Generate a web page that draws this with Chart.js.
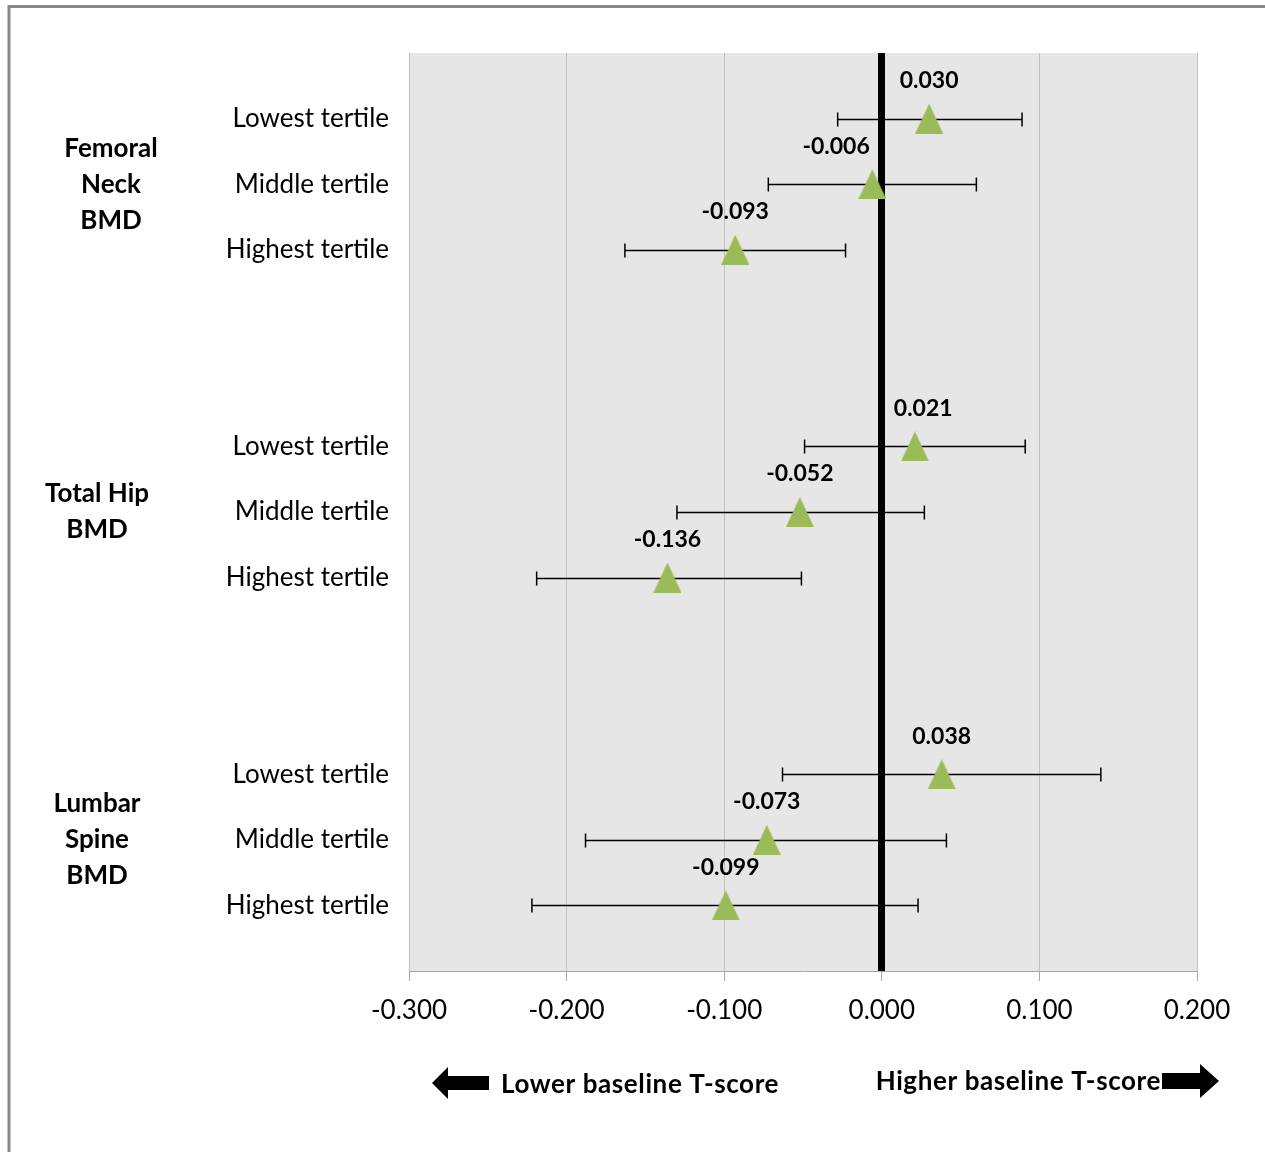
<!DOCTYPE html>
<html>
<head>
<meta charset="utf-8">
<title>Change in T-score by tertile</title>
<script src="https://cdn.jsdelivr.net/npm/chart.js@4.4.1/dist/chart.umd.min.js"></script>
<style>
    body { margin: 0; background: #fff; }
    #wrap { position: relative; width: 1265px; height: 1152px; }
</style>
</head>
<body>
<div id="wrap"><canvas id="forest"></canvas></div>
<script>
// ── Data ─────────────────────────────────────────────────────
const groupLabels = [
    ["Femoral", "Neck", "BMD"],
    ["Total Hip", "BMD"],
    ["Lumbar", "Spine", "BMD"],
];
const tertiles = ["Lowest tertile", "Middle tertile", "Highest tertile"];
const estimates = [0.030, -0.006, -0.093, 0.021, -0.052, -0.136, 0.038, -0.073, -0.099];
const lowerCI = [-0.028, -0.072, -0.163, -0.049, -0.130, -0.219, -0.063, -0.188, -0.222];
const upperCI = [0.089, 0.060, -0.023, 0.091, 0.027, -0.051, 0.139, 0.041, 0.023];
const xTicks = [-0.3, -0.2, -0.1, 0, 0.1, 0.2];
const arrowLabels = ["Lower baseline T-score", "Higher baseline T-score"];

const GREEN = "#9bbb59";
const FONT = "Lato, 'Open Sans', sans-serif";

// row slot on the y scale: 3 tertiles per group, 2 empty slots between groups
function rowPos(i) {
    return Math.floor(i / 3) * 5 + (i % 3);
}

const rowLabelAt = {};
estimates.forEach((_, i) => { rowLabelAt[rowPos(i)] = tertiles[i % 3]; });

// triangle marker (a bit taller than equilateral, like the original)
function makeTriangle() {
    const c = document.createElement("canvas");
    c.width = 28; c.height = 30;
    const g = c.getContext("2d");
    g.fillStyle = GREEN;
    g.beginPath();
    g.moveTo(14, 0);
    g.lineTo(28, 30);
    g.lineTo(0, 30);
    g.closePath();
    g.fill();
    return c;
}

// ── Plugins ──────────────────────────────────────────────────
const framePlugin = {
    id: "frame",
    beforeDraw(chart) {
        const ctx = chart.ctx;
        ctx.save();
        ctx.fillStyle = "#fff";
        ctx.fillRect(0, 0, chart.width, chart.height);
        const a = chart.chartArea;
        ctx.fillStyle = "#e6e6e6";
        ctx.fillRect(a.left, a.top, a.right - a.left, a.bottom - a.top);
        ctx.strokeStyle = "#878787";
        ctx.lineWidth = 3;
        ctx.beginPath();
        ctx.moveTo(9, chart.height);
        ctx.lineTo(9, 6.5);
        ctx.lineTo(chart.width, 6.5);
        ctx.stroke();
        ctx.restore();
    },
};

const errorBarPlugin = {
    id: "errorBars",
    beforeDatasetsDraw(chart) {
        const ctx = chart.ctx;
        const xs = chart.scales.x, ys = chart.scales.y;
        ctx.save();
        ctx.strokeStyle = "#000";
        ctx.lineWidth = 1.5;
        estimates.forEach((_, i) => {
            const y = Math.round(ys.getPixelForValue(rowPos(i))) + 0.5;
            const x1 = xs.getPixelForValue(lowerCI[i]);
            const x2 = xs.getPixelForValue(upperCI[i]);
            ctx.beginPath();
            ctx.moveTo(x1, y); ctx.lineTo(x2, y);
            ctx.moveTo(x1, y - 7); ctx.lineTo(x1, y + 7);
            ctx.moveTo(x2, y - 7); ctx.lineTo(x2, y + 7);
            ctx.stroke();
        });
        ctx.restore();
    },
};

const labelPlugin = {
    id: "valueLabels",
    afterDatasetsDraw(chart) {
        const ctx = chart.ctx;
        const xs = chart.scales.x, ys = chart.scales.y;
        const zeroX = xs.getPixelForValue(0);
        ctx.save();
        ctx.fillStyle = "#000";
        ctx.font = "bold 23px " + FONT;
        ctx.textBaseline = "middle";
        ctx.textAlign = "center";
        estimates.forEach((v, i) => {
            const txt = v.toFixed(3);
            const w = ctx.measureText(txt).width;
            let cx = xs.getPixelForValue(v);
            const cy = ys.getPixelForValue(rowPos(i)) - 38;
            // keep the label clear of the thick zero line
            if (cx - w / 2 < zeroX + 6 && cx + w / 2 > zeroX - 6) {
                cx = v < 0 ? zeroX - 12 - w / 2 : zeroX + 12 + w / 2;
            }
            ctx.fillText(txt, cx, cy);
        });

        // group titles
        const centers = [111, 97, 97];
        ctx.font = "bold 26px " + FONT;
        groupLabels.forEach((lines, g) => {
            const mid = ys.getPixelForValue(g * 5 + 1);
            const top = mid - (lines.length - 1) * 36 / 2;
            lines.forEach((ln, k) => ctx.fillText(ln, centers[g], top + k * 36));
        });
        ctx.restore();
    },
};

const arrowPlugin = {
    id: "arrows",
    afterDraw(chart) {
        const ctx = chart.ctx;
        ctx.save();
        ctx.fillStyle = "#000";
        ctx.font = "bold 26px " + FONT;
        ctx.letterSpacing = "0.6px";
        ctx.textBaseline = "middle";

        // left arrow + text
        const yl = 1083;
        ctx.beginPath();
        ctx.moveTo(432, yl);
        ctx.lineTo(448, yl - 16);
        ctx.lineTo(448, yl - 7);
        ctx.lineTo(489, yl - 7);
        ctx.lineTo(489, yl + 7);
        ctx.lineTo(448, yl + 7);
        ctx.lineTo(448, yl + 16);
        ctx.closePath();
        ctx.fill();
        ctx.textAlign = "left";
        ctx.fillText(arrowLabels[0], 501, 1085);

        // right text + arrow
        const yr = 1081;
        ctx.textAlign = "right";
        ctx.fillText(arrowLabels[1], 1161, yr + 1);
        ctx.beginPath();
        ctx.moveTo(1219, yr);
        ctx.lineTo(1200, yr - 17);
        ctx.lineTo(1200, yr - 8);
        ctx.lineTo(1162, yr - 8);
        ctx.lineTo(1162, yr + 8);
        ctx.lineTo(1200, yr + 8);
        ctx.lineTo(1200, yr + 17);
        ctx.closePath();
        ctx.fill();
        ctx.restore();
    },
};

// ── Chart ────────────────────────────────────────────────────
const tri = makeTriangle();

new Chart(document.getElementById("forest"), {
    type: "scatter",
    data: {
        datasets: [{
            data: estimates.map((v, i) => ({ x: v, y: rowPos(i) })),
            pointStyle: tri,
            pointRadius: 15,
            pointHoverRadius: 15,
        }],
    },
    options: {
        responsive: true,
        maintainAspectRatio: false,
        animation: false,
        events: [],
        layout: { padding: { top: 53, right: 68, left: 0, bottom: 0 } },
        plugins: {
            legend: { display: false },
            tooltip: { enabled: false },
        },
        scales: {
            x: {
                type: "linear",
                min: xTicks[0],
                max: xTicks[xTicks.length - 1],
                afterBuildTicks: (scale) => { scale.ticks = xTicks.map(v => ({ value: v })); },
                afterFit: (scale) => { scale.height = 181; },
                grid: {
                    color: (c) => (c.tick && c.tick.value === 0 ? "#000" : "#c0c0c0"),
                    lineWidth: (c) => (c.tick && c.tick.value === 0 ? 7 : 1),
                    tickColor: "#a6a6a6",
                    tickWidth: 1,
                    tickLength: 10,
                },
                border: { display: true, color: "#a6a6a6", width: 1 },
                ticks: {
                    padding: 14,
                    color: "#000",
                    font: { family: FONT, size: 26 },
                    callback: (v) => Number(v).toFixed(3),
                },
            },
            y: {
                type: "linear",
                min: -1,
                max: 13,
                reverse: true,
                afterFit: (scale) => { scale.width = 409; },
                grid: { display: false },
                border: { display: false },
                ticks: {
                    stepSize: 1,
                    autoSkip: false,
                    padding: 12,
                    color: "#000",
                    font: { family: FONT, size: 26 },
                    callback: (v) => rowLabelAt[v] || "",
                },
            },
        },
    },
    plugins: [framePlugin, errorBarPlugin, labelPlugin, arrowPlugin],
});
</script>
</body>
</html>
